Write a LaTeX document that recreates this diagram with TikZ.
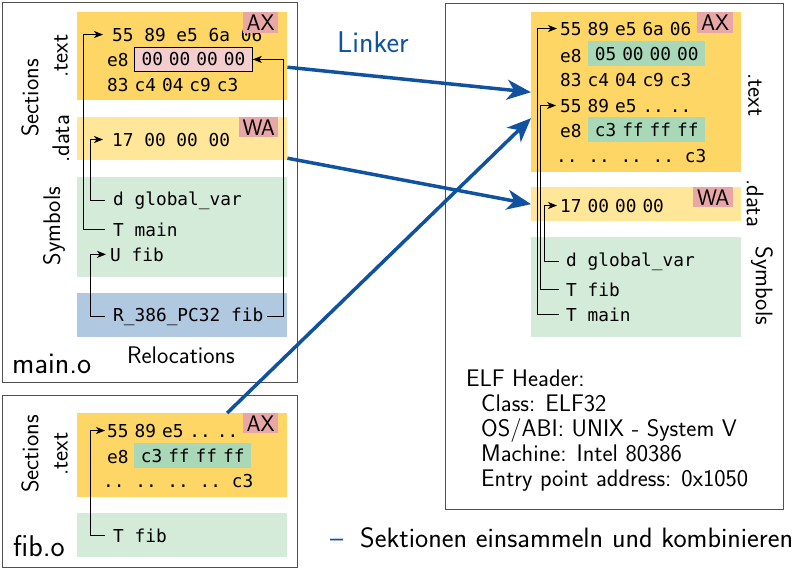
\documentclass[tikz,border=0pt]{standalone}
\usepackage{fontspec}
\setmonofont{DejaVu Sans Mono}
\usetikzlibrary{arrows.meta}
\definecolor{secyellow}{RGB}{253,214,102}
\definecolor{datayellow}{RGB}{255,230,153}
\definecolor{symgreen}{RGB}{213,235,218}
\definecolor{relblue}{RGB}{176,200,224}
\definecolor{labpink}{RGB}{232,166,166}
\definecolor{boxpink}{RGB}{244,206,206}
\definecolor{boxgreen}{RGB}{169,216,184}
\definecolor{linkblue}{RGB}{16,82,160}
\definecolor{framegray}{RGB}{80,80,80}
\newcommand\monosz{\fontsize{17.8}{20}\selectfont}
\newcommand\sanssz{\fontsize{24}{26}\selectfont}
\newcommand\tagsz{\fontsize{22.5}{25}\selectfont}
\newcommand\bigsz{\fontsize{30}{32}\selectfont}
\newcommand\hs{\hspace{6pt}}
\begin{document}
\begin{tikzpicture}[x=1pt,y=-1pt,
  every node/.style={inner sep=0pt, font=\sffamily\sanssz},
  objframe/.style={draw=framegray, line width=0.9pt, anchor=north west},
  area/.style={anchor=north west, minimum width=210pt},
  hexw/.style={anchor=base west, font=\ttfamily\monosz},
  hexn/.style={anchor=base west, font=\ttfamily\monosz},
  hexbox/.style={anchor=north west, minimum width=117pt, minimum height=25pt, font=\ttfamily\monosz},
  tag/.style={anchor=north west, fill=labpink, minimum height=21pt, font=\sffamily\tagsz},
  vlabel/.style={rotate=90},
  rlabel/.style={rotate=-90},
  conn/.style={draw=black, line width=0.8pt, -{Stealth[length=9pt,width=7pt,inset=2.5pt]}},
  bigarrow/.style={draw=linkblue, line width=3.5pt, -{Stealth[length=24pt,width=20pt,inset=7pt]}},
  objname/.style={anchor=base west, font=\sffamily\bigsz}
]
\useasboundingbox (0,0) rectangle (799,568);

% ---------- main.o ----------
\node[objframe, minimum width=295pt, minimum height=380pt] (mainobj) at (2,2) {};
\node[area, fill=secyellow, minimum height=88pt] (mtext) at (77,12) {};
\node[area, fill=datayellow, minimum height=43pt] (mdata) at (77,117) {};
\node[area, fill=symgreen, minimum height=100pt] (msym) at (77,177) {};
\node[area, fill=relblue, minimum height=44pt] (mrel) at (77,293) {};
\node[vlabel] (msec) at (30,98) {Sections};
\node[vlabel] (mtextlab) at (61,56) {.text};
\node[vlabel] (mdatalab) at (61,139) {.data};
\node[vlabel] (msymlab) at (54,226) {Symbols};

\node[hexw] (ml1) at (112,41) {55 89 e5 6a 06};
\node[hexn] (ml2) at (107,66) {e8};
\node[hexbox, draw=black, fill=boxpink, minimum width=118pt, minimum height=24pt, line width=0.8pt] (mbox) at (134,47) {00\hs 00\hs 00\hs 00};
\node[hexn] (ml3) at (107,91) {83\hs c4\hs 04\hs c9\hs c3};
\node[tag, minimum width=35pt] (max) at (243,12) {AX};
\node[hexw] (mdl) at (112,146) {17 00 00 00};
\node[tag, minimum width=39pt, minimum height=20pt] (mwa) at (239,117) {WA};
\node[hexw] (mglob) at (113,205) {d global\_var};
\node[hexw] (mtmain) at (113,236) {T main};
\node[hexw] (mufib) at (110,261) {U fib};
\node[hexw] (mrelt) at (113,321) {R\_386\_PC32 fib};
\node[anchor=base] (mrellab) at (181,363) {Relocations};
\node[objname] (mname) at (12,373) {main.o};

\draw[conn] ([xshift=-8pt]mtmain.west) -- (83,0 |- mtmain.west) |- ([xshift=-9pt]ml1.west);
\draw[conn] ([xshift=-8pt]mglob.west) -- (90,0 |- mglob.west) |- ([xshift=-9pt]mdl.west);
\draw[conn] ([xshift=-8pt]mrelt.west) -- (90,0 |- mrelt.west) |- ([xshift=-4pt]mufib.west);
\draw[conn] ([xshift=4pt]mrelt.east) -- (283,0 |- mrelt.east) |- (mbox.east);

% ---------- fib.o ----------
\node[objframe, minimum width=295pt, minimum height=172pt] (fibobj) at (2,395) {};
\node[area, fill=secyellow, minimum height=84pt] (ftext) at (77,413) {};
\node[area, fill=symgreen, minimum height=44pt] (fsym) at (77,513) {};
\node[vlabel] (fsec) at (30,454) {Sections};
\node[vlabel] (ftextlab) at (61,454) {.text};
\node[hexn] (fl1) at (107,437) {55\hs 89\hs e5\hs ..\hs ..};
\node[hexn] (fl2) at (107,463) {e8};
\node[hexbox, fill=boxgreen] (fbox) at (134,443) {c3\hs ff\hs ff\hs ff};
\node[hexw] (fl3) at (103,487) {.. .. .. .. c3};
\node[tag, minimum width=35pt, minimum height=20pt] (fax) at (243,413) {AX};
\node[hexw] (ftfib) at (113,542) {T fib};
\node[objname] (fname) at (13,556) {fib.o};

\draw[conn] ([xshift=-8pt]ftfib.west) -- (90,0 |- ftfib.west) |- ([xshift=-2pt]fl1.west);

% ---------- linked executable ----------
\node[objframe, minimum width=338pt, minimum height=506pt] (exe) at (445,3) {};
\node[area, fill=secyellow, minimum height=160pt] (rtext) at (531,12) {};
\node[area, fill=datayellow, minimum height=34pt] (rdata) at (531,187) {};
\node[area, fill=symgreen, minimum height=100pt] (rsym) at (531,237) {};
\node[rlabel] (rtextlab) at (755,95) {.text};
\node[rlabel] (rdatalab) at (755,203) {.data};
\node[rlabel] (rsymlab) at (762,286) {Symbols};

\node[hexn] (rl1) at (560,35) {55\hs 89\hs e5\hs 6a\hs 06};
\node[hexn] (rl2) at (560,62) {e8};
\node[hexbox, fill=boxgreen] (rbox1) at (588,41) {05\hs 00\hs 00\hs 00};
\node[hexn] (rl3) at (560,86) {83\hs c4\hs 04\hs c9\hs c3};
\node[hexn] (rl4) at (560,112) {55\hs 89\hs e5\hs ..\hs ..};
\node[hexn] (rl5) at (560,137) {e8};
\node[hexbox, fill=boxgreen] (rbox2) at (588,117) {c3\hs ff\hs ff\hs ff};
\node[hexw] (rl6) at (556,162) {.. .. .. .. c3};
\node[tag, minimum width=36pt] (rax) at (697,12) {AX};
\node[hexn] (rdl) at (560,212) {17\hs 00\hs 00\hs 00};
\node[tag, minimum width=40pt, minimum height=20pt] (rwa) at (693,187) {WA};
\node[hexw] (rglob) at (566,266) {d global\_var};
\node[hexw] (rtfib) at (566,296) {T fib};
\node[hexw] (rtmain) at (566,321) {T main};

\draw[conn] ([xshift=-7pt]rtmain.west) -- (537,0 |- rtmain.west) |- ([xshift=-3pt]rl1.west);
\draw[conn] ([xshift=-7pt]rtfib.west) -- (540,0 |- rtfib.west) |- ([xshift=-4pt]rl4.west);
\draw[conn] ([xshift=-7pt]rglob.west) -- (544,0 |- rglob.west) |- ([xshift=-3pt]rdl.west);

\node[anchor=base west] (elf) at (466,386) {ELF Header:};
\node[anchor=base west] (elf1) at (481,411) {Class: ELF32};
\node[anchor=base west] (elf2) at (481,436) {OS/ABI: UNIX - System V};
\node[anchor=base west] (elf3) at (481,461) {Machine: Intel 80386};
\node[anchor=base west] (elf4) at (481,486) {Entry point address: 0x1050};

% ---------- linker ----------
\node[anchor=base west, text=linkblue, font=\sffamily\bigsz] (linker) at (337,52) {Linker};
\draw[bigarrow] ([yshift=-11pt]mtext.east) -- (rtext.west);
\draw[bigarrow] ([yshift=-19.5pt]mdata.east) -- (rdata.west);
\draw[bigarrow] ([xshift=45pt]ftext.north) -- ([yshift=-26pt]rtext.west);

% ---------- bullet ----------
\node[anchor=base west, text=linkblue, font=\sffamily\fontsize{28}{30}\selectfont] (dash) at (330,547) {–};
\node[anchor=base west, font=\sffamily\fontsize{28}{30}\selectfont] (item) at (360,547) {Sektionen einsammeln und kombinieren};
\end{tikzpicture}
\end{document}
